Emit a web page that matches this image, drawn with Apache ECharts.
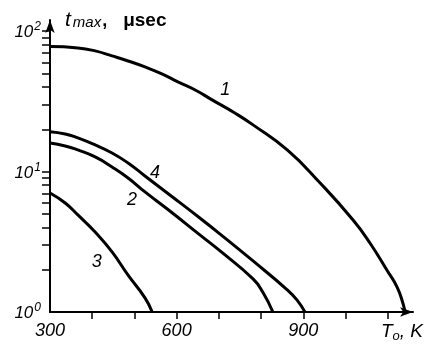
<!DOCTYPE html>
<html><head><meta charset="utf-8">
<script src="https://cdn.jsdelivr.net/npm/echarts@6/dist/echarts.min.js"></script>
<style>html,body{margin:0;padding:0;background:#fff}#c{width:426px;height:348px}</style>
</head><body><div id="c"></div>
<script>
// Data (T0 in K, t_max in microseconds)
const curveNames = ['1', '2', '3', '4'];
const curve1T = [300, 366, 407, 447, 485, 525, 565, 603, 644, 684, 738, 781, 862, 940, 1018, 1058, 1098, 1122, 1136, 1141];
const curve1V = [77.6, 75.9, 72.3, 66.6, 61.3, 55.6, 49.6, 43.5, 38.1, 32.4, 26.1, 21.5, 14.25, 8.29, 4.52, 3.10, 1.99, 1.51, 1.16, 1.0];
const curve2T = [300, 336, 366, 407, 447, 485, 525, 584, 655, 703, 781, 805, 828];
const curve2V = [15.99, 15.22, 14.25, 12.71, 10.78, 9.0, 7.16, 5.24, 3.54, 2.72, 1.72, 1.37, 1.0];
const curve3T = [300, 336, 366, 407, 447, 485, 525, 542];
const curve3V = [7.04, 5.97, 4.91, 3.71, 2.68, 1.83, 1.26, 1.0];
const curve4T = [300, 336, 366, 407, 447, 485, 525, 584, 655, 703, 781, 862, 885, 904];
const curve4V = [19.24, 18.53, 17.35, 15.47, 13.57, 11.51, 9.30, 6.81, 4.67, 3.59, 2.31, 1.44, 1.22, 1.0];
// curve label anchors in data space [T, t]
const labelAnchorT = [715, 494, 411, 549];
const labelAnchorV = [38.1, 6.28, 2.27, 9.77];

const xLabelValues = [300, 600, 900];
const xTickValues = [400, 500, 600, 700, 800, 900, 1000, 1100];
const yLabelValues = [1, 10, 100];
const yTickValues = [2, 3, 4, 5, 6, 7, 8, 9, 10, 20, 30, 40, 50, 60, 70, 80, 90, 100];

const FONT = 'Liberation Sans';
const pairs = (t, v) => t.map((x, i) => [x, v[i]]);
const curves = [pairs(curve1T, curve1V), pairs(curve2T, curve2V), pairs(curve3T, curve3V), pairs(curve4T, curve4V)];

const chart = echarts.init(document.getElementById('c'), null, { renderer: 'canvas' });
const series = curves.map((d, i) => ({
  type: 'line', name: curveNames[i], data: d, smooth: 0.5, showSymbol: false, symbol: 'none',
  lineStyle: { color: '#000', width: 3 }, silent: true,
  markPoint: {
    symbol: 'circle', symbolSize: 1, itemStyle: { color: 'rgba(0,0,0,0)' },
    label: { show: true, position: 'inside', formatter: curveNames[i], color: '#000', fontSize: 18, fontStyle: 'italic', fontFamily: FONT },
    data: [{ coord: [labelAnchorT[i], labelAnchorV[i]] }]
  }
}));

chart.setOption({
  animation: false,
  backgroundColor: '#fff',
  grid: { left: 50, right: 13, top: 20, bottom: 36 },
  xAxis: {
    type: 'value', min: 300, max: 1160,
    axisLine: { onZero: false, lineStyle: { color: '#000', width: 2 }, symbol: ['none', 'arrow'], symbolSize: [7, 13] },
    axisTick: { show: true, customValues: xTickValues, length: 7, lineStyle: { color: '#000', width: 1.5 } },
    axisLabel: { customValues: xLabelValues, margin: 10, color: '#000', fontSize: 18, fontStyle: 'italic', fontFamily: FONT },
    splitLine: { show: false },
    name: '{t|T}{s|o}{c|, K}', nameLocation: 'end', nameGap: 10,
    nameTextStyle: {
      align: 'right', verticalAlign: 'top', padding: [10, 0, 0, 0],
      rich: {
        t: { fontSize: 19, fontStyle: 'italic', fontFamily: FONT, color: '#000', verticalAlign: 'top' },
        s: { fontSize: 13, fontStyle: 'italic', fontFamily: FONT, color: '#000', verticalAlign: 'bottom', padding: [8, 0, 0, 0] },
        c: { fontSize: 19, fontStyle: 'italic', fontFamily: FONT, color: '#000', verticalAlign: 'top' }
      }
    }
  },
  yAxis: {
    type: 'log', logBase: 10, min: 1, max: 120,
    axisLine: { onZero: false, lineStyle: { color: '#000', width: 2 }, symbol: ['none', 'arrow'], symbolSize: [7, 13] },
    axisTick: { show: true, customValues: yTickValues, length: 8, lineStyle: { color: '#000', width: 1.5 } },
    axisLabel: {
      customValues: yLabelValues, margin: 9, color: '#000',
      formatter: v => '{b|10}{p|' + Math.round(Math.log10(v)) + '}',
      rich: {
        b: { fontSize: 17, fontStyle: 'italic', fontFamily: FONT, color: '#000', verticalAlign: 'bottom' },
        p: { fontSize: 12, fontStyle: 'italic', fontFamily: FONT, color: '#000', verticalAlign: 'top', padding: [0, 0, 8, 1] }
      }
    },
    splitLine: { show: false },
    name: '{t|t}{s|max}{c|,}{u|μsec}', nameLocation: 'end', nameGap: 0,
    nameTextStyle: {
      align: 'left', verticalAlign: 'middle', padding: [0, 0, 0, 15],
      rich: {
        t: { fontSize: 21, fontStyle: 'italic', fontFamily: FONT, color: '#000', verticalAlign: 'bottom' },
        s: { fontSize: 15, fontStyle: 'italic', fontFamily: FONT, color: '#000', verticalAlign: 'bottom', padding: [0, 0, 0, 2] },
        c: { fontSize: 18, fontFamily: FONT, fontWeight: 'bold', color: '#000', verticalAlign: 'bottom', padding: [0, 16, 0, 1] },
        u: { fontSize: 19, fontFamily: FONT, fontWeight: 'bold', color: '#000', verticalAlign: 'bottom' }
      }
    }
  },
  series: series
});
</script></body></html>
